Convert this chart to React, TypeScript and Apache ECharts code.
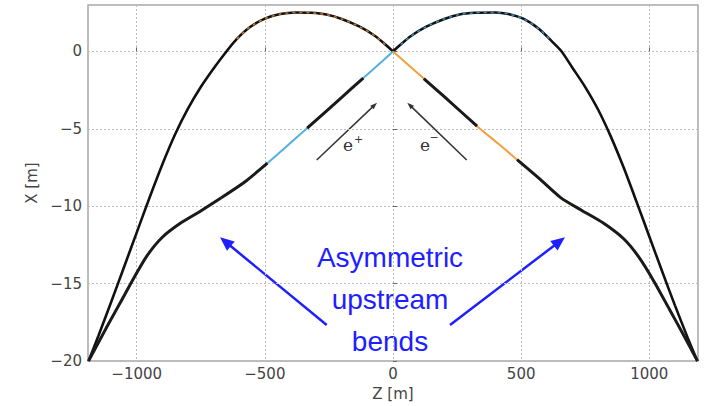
import { useEffect, useRef } from 'react';
import * as echarts from 'echarts';

// ---- data (Z [m], X [m]) ----
const leftOuter: number[][] = [
  [0, 0], [-30, 0.45], [-70, 1.0], [-130, 1.6], [-200, 2.1], [-260, 2.38], [-320, 2.5], [-380, 2.52],
  [-440, 2.42], [-500, 2.12], [-560, 1.55], [-610, 0.8], [-650, 0], [-700, -1.1], [-750, -2.3],
  [-800, -3.7], [-850, -5.35], [-900, -7.3], [-950, -9.45], [-1000, -11.7], [-1050, -13.95],
  [-1100, -16.2], [-1150, -18.4], [-1188, -20],
];
const rightOuter: number[][] = [
  [0, 0], [30, 0.45], [70, 1.0], [130, 1.6], [200, 2.1], [263, 2.4], [320, 2.5], [400, 2.52],
  [450, 2.42], [510, 2.1], [570, 1.45], [620, 0.65], [658, 0], [700, -1.05], [750, -2.3],
  [800, -3.75], [850, -5.5], [900, -7.5], [950, -9.7], [1000, -11.95], [1050, -14.2],
  [1100, -16.4], [1150, -18.5], [1188, -20],
];
const leftInner: number[][] = [
  [0, 0], [-40, -0.6], [-116, -1.72], [-200, -2.96], [-335, -4.96], [-420, -6.2], [-490, -7.22],
  [-580, -8.45], [-670, -9.45], [-750, -10.3], [-830, -11.1], [-900, -12.0], [-960, -13.2],
  [-1010, -14.6], [-1060, -16.1], [-1120, -17.9], [-1188, -20],
];
const rightInner: number[][] = [
  [0, 0], [40, -0.58], [120, -1.75], [200, -2.92], [328, -4.83], [410, -5.95], [484, -6.99],
  [570, -8.2], [654, -9.44], [740, -10.3], [822, -11.1], [900, -12.1], [960, -13.3],
  [1020, -14.9], [1080, -16.7], [1130, -18.2], [1188, -20],
];
// Z ranges of the magnet (black) segments on the inner lines
const leftInnerMagnets: number[][] = [[-335, -116], [-670, -490], [-1188, -670]];
const rightInnerMagnets: number[][] = [[120, 328], [484, 1188]];
// Z ranges of the coloured dashes on the outer lines
const leftOuterColoured: number[] = [-620, -30];
const rightOuterColoured: number[] = [30, 620];

const xTickValues = [-1000, -500, 0, 500, 1000];
const yTickValues = [-20, -15, -10, -5, 0];
const textLines = ['Asymmetric', 'upstream', 'bends'];

const BLUE = '#55b0e0';
const ORANGE = '#f2a040';
const ANNOT = '#1e1eff';

function seg(curve: number[][], r: number[]) {
  const a = Math.min(r[0], r[1]);
  const b = Math.max(r[0], r[1]);
  return curve.filter((p) => p[0] >= a && p[0] <= b);
}

function arrow(tail: number[], head: number[], len: number, wid: number, color: string, lw: number) {
  const dx = head[0] - tail[0];
  const dy = head[1] - tail[1];
  const d = Math.hypot(dx, dy);
  const ux = dx / d, uy = dy / d;
  const bx = head[0] - ux * len, by = head[1] - uy * len;
  const px = -uy, py = ux;
  return [
    { type: 'line', silent: true, shape: { x1: tail[0], y1: tail[1], x2: bx + ux * 1, y2: by + uy * 1 }, style: { stroke: color, lineWidth: lw } },
    {
      type: 'polygon', silent: true,
      shape: { points: [[head[0], head[1]], [bx + px * wid / 2, by + py * wid / 2], [bx - px * wid / 2, by - py * wid / 2]] },
      style: { fill: color },
    },
  ];
}

function lineSeries(data: number[][], color: string, width: number, z: number, type: any = 'solid') {
  return {
    type: 'line', data, showSymbol: false, symbol: 'none', smooth: 0.25, silent: true, z,
    lineStyle: { color, width, type, cap: 'butt' },
  };
}

export default function App() {
  const ref = useRef<HTMLDivElement>(null);
  useEffect(() => {
    const chart = echarts.init(ref.current!, null, { renderer: 'svg' });
    const fmt = (v: number) => String(v).replace('-', '\u2212');
    const series: any[] = [
      lineSeries(leftOuter, '#111', 2.6, 2),
      lineSeries(rightOuter, '#111', 2.6, 2),
      lineSeries(seg(leftOuter, leftOuterColoured), '#c8782a', 1.5, 3, [3, 4]),
      lineSeries(seg(rightOuter, rightOuterColoured), '#3a8fc0', 1.5, 3, [3, 4]),
      lineSeries(leftInner, BLUE, 2, 2),
      lineSeries(rightInner, ORANGE, 2, 2),
      ...leftInnerMagnets.map((r) => lineSeries(seg(leftInner, r), '#1a1a1a', 3, 3)),
      ...rightInnerMagnets.map((r) => lineSeries(seg(rightInner, r), '#1a1a1a', 3, 3)),
    ];
    const graphic: any[] = [
      ...arrow([316.7, 160], [377, 102.7], 7, 5, '#333', 1.5),
      ...arrow([466.7, 160], [407.3, 102.7], 7, 5, '#333', 1.5),
      ...arrow([326.7, 325], [220, 237.3], 14, 12, ANNOT, 2.5),
      ...arrow([450, 325], [565, 237.3], 14, 12, ANNOT, 2.5),
      { type: 'text', silent: true, style: { text: 'e', x: 348, y: 145, fontSize: 17, fontFamily: 'DejaVu Serif', fill: '#333', align: 'center', verticalAlign: 'middle' } },
      { type: 'text', silent: true, style: { text: '+', x: 358.5, y: 139, fontSize: 11, fontFamily: 'DejaVu Serif', fill: '#333', align: 'center', verticalAlign: 'middle' } },
      { type: 'text', silent: true, style: { text: 'e', x: 425, y: 145, fontSize: 17, fontFamily: 'DejaVu Serif', fill: '#333', align: 'center', verticalAlign: 'middle' } },
      { type: 'text', silent: true, style: { text: '\u2212', x: 434, y: 137, fontSize: 11, fontFamily: 'DejaVu Serif', fill: '#333', align: 'center', verticalAlign: 'middle' } },
      ...textLines.map((t, i) => ({
        type: 'text', silent: true,
        style: { text: t, x: 390, y: 257 + i * 42, fontSize: 28, fontFamily: 'Liberation Sans', fill: ANNOT, align: 'center', verticalAlign: 'middle' },
      })),
    ];
    chart.setOption({
      animation: false,
      backgroundColor: '#fff',
      grid: { left: 88, right: 8, top: 5, bottom: 42, show: true, borderColor: '#a8a8a8', borderWidth: 1.5 },
      xAxis: {
        type: 'value', min: -1190, max: 1190, splitNumber: 5,
        name: 'Z [m]', nameLocation: 'middle', nameGap: 17,
        nameTextStyle: { fontFamily: 'DejaVu Sans', fontSize: 15, color: '#444' },
        axisLine: { show: false },
        axisTick: { show: true, inside: true, length: 4, lineStyle: { color: '#666' }, customValues: xTickValues },
        axisLabel: { customValues: xTickValues, formatter: fmt, fontFamily: 'DejaVu Sans', fontSize: 15, color: '#444', margin: 5 },
        splitLine: { show: true, lineStyle: { color: '#bbb', type: [2, 2], width: 1 } },
      },
      yAxis: {
        type: 'value', min: -20, max: 3, interval: 5,
        name: 'X [m]', nameLocation: 'middle', nameGap: 46, nameRotate: 90,
        nameTextStyle: { fontFamily: 'DejaVu Sans', fontSize: 15, color: '#444' },
        axisLine: { show: false },
        axisTick: { show: true, inside: true, length: 4, lineStyle: { color: '#666' }, customValues: yTickValues },
        axisLabel: { customValues: yTickValues, formatter: fmt, fontFamily: 'DejaVu Sans', fontSize: 15, color: '#444', margin: 6 },
        splitLine: { show: true, lineStyle: { color: '#bbb', type: [2, 2], width: 1 } },
      },
      series,
      graphic,
    });
    return () => chart.dispose();
  }, []);
  return <div ref={ref} style={{ position: 'absolute', left: 0, top: 0, width: 706, height: 406 }} />;
}
